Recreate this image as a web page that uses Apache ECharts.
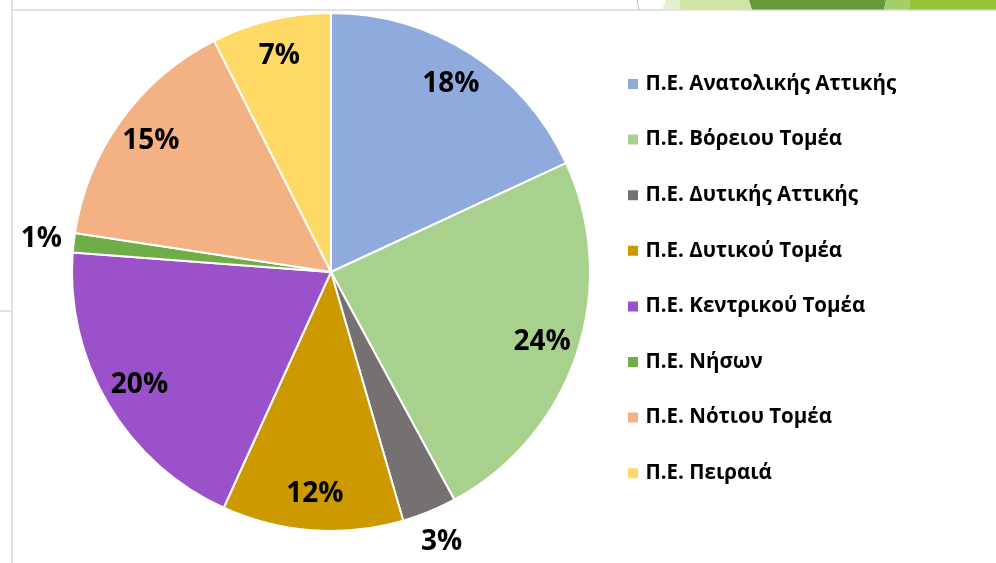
<!DOCTYPE html>
<html>
<head>
<meta charset="utf-8">
<script src="https://cdn.jsdelivr.net/npm/echarts@6/dist/echarts.min.js"></script>
<style>
  html, body { margin: 0; padding: 0; background: #fff; }
  #chart { width: 996px; height: 563px; }
</style>
</head>
<body>
<div id="chart"></div>
<script>
const categories = [
  'Π.Ε. Ανατολικής Αττικής',
  'Π.Ε. Βόρειου Τομέα',
  'Π.Ε. Δυτικής Αττικής',
  'Π.Ε. Δυτικού Τομέα',
  'Π.Ε. Κεντρικού Τομέα',
  'Π.Ε. Νήσων',
  'Π.Ε. Νότιου Τομέα',
  'Π.Ε. Πειραιά'
]
const shares = [18.1, 24.0, 3.4, 11.3, 19.4, 1.2, 15.15, 7.45]
const percentLabels = ['18%', '24%', '3%', '12%', '20%', '1%', '15%', '7%']
const colors = ['#8FAADC', '#A9D18E', '#767171', '#CC9900', '#9A51CA', '#70AD47', '#F4B183', '#FFD966']

const FONT = '"Open Sans", "Noto Sans", sans-serif'
const cx = 331, cy = 272, R = 259
const small = v => v < 5

const chart = echarts.init(document.getElementById('chart'), null, { renderer: 'canvas' })

const mainData = categories.map((name, i) => ({ name, value: shares[i], itemStyle: { color: colors[i] } }))

// transparent ring used only to place the labels at the right radius
const labelSeries = (r0, r1, showFn) => ({
  type: 'pie',
  radius: [r0, r1],
  center: [cx, cy],
  startAngle: 90,
  clockwise: true,
  silent: true,
  legendHoverLink: false,
  itemStyle: { color: 'rgba(0,0,0,0)', borderWidth: 0 },
  labelLine: { show: false },
  data: categories.map((name, i) => ({
    name,
    value: shares[i],
    label: {
      show: showFn(shares[i]),
      position: 'inside',
      formatter: percentLabels[i],
      color: '#000',
      fontFamily: FONT,
      fontWeight: 'bold',
      fontSize: 28
    }
  }))
})

chart.setOption({
  animation: false,
  backgroundColor: '#fff',
  color: colors,
  legend: {
    orient: 'vertical',
    left: 621,
    top: 68,
    itemWidth: 15,
    itemHeight: 12,
    itemGap: 33.6,
    icon: 'path://M0,0h12v12h-12z',
    textStyle: { color: '#000', fontFamily: FONT, fontWeight: 'bold', fontSize: 20.5, lineHeight: 22 },
    data: categories
  },
  graphic: [
    { type: 'line', shape: { x1: 12, y1: 10, x2: 996, y2: 10 }, style: { stroke: '#d9d9d9', lineWidth: 1.5 }, silent: true },
    { type: 'line', shape: { x1: 12, y1: 0, x2: 12, y2: 563 }, style: { stroke: '#d9d9d9', lineWidth: 1.5 }, silent: true },
    { type: 'line', shape: { x1: 0, y1: 311, x2: 12, y2: 311 }, style: { stroke: '#d9d9d9', lineWidth: 1.5 }, silent: true },
    { type: 'line', shape: { x1: 637, y1: 0, x2: 639, y2: 10 }, style: { stroke: '#bfbfbf', lineWidth: 1 }, silent: true },
    { type: 'polygon', shape: { points: [[666, 0], [680, 0], [680, 9.5], [662, 9.5]] }, style: { fill: '#E3EFD3' }, silent: true },
    { type: 'polygon', shape: { points: [[680, 0], [749, 0], [752, 9.5], [680, 9.5]] }, style: { fill: '#D0E4A4' }, silent: true },
    { type: 'polygon', shape: { points: [[749, 0], [886, 0], [884, 9.5], [752, 9.5]] }, style: { fill: '#66993C' }, silent: true },
    { type: 'polygon', shape: { points: [[886, 0], [910, 0], [910, 9.5], [884, 9.5]] }, style: { fill: '#A5CE6A' }, silent: true },
    { type: 'polygon', shape: { points: [[910, 0], [996, 0], [996, 9.5], [910, 9.5]] }, style: { fill: '#95C43C' }, silent: true }
  ],
  series: [
    {
      type: 'pie',
      radius: [0, R],
      center: [cx, cy],
      startAngle: 90,
      clockwise: true,
      itemStyle: { borderColor: '#fff', borderWidth: 2 },
      label: { show: false },
      labelLine: { show: false },
      data: mainData
    },
    labelSeries(180, R, v => !small(v)),
    labelSeries(R, 318, v => small(v))
  ]
})
</script>
</body>
</html>
